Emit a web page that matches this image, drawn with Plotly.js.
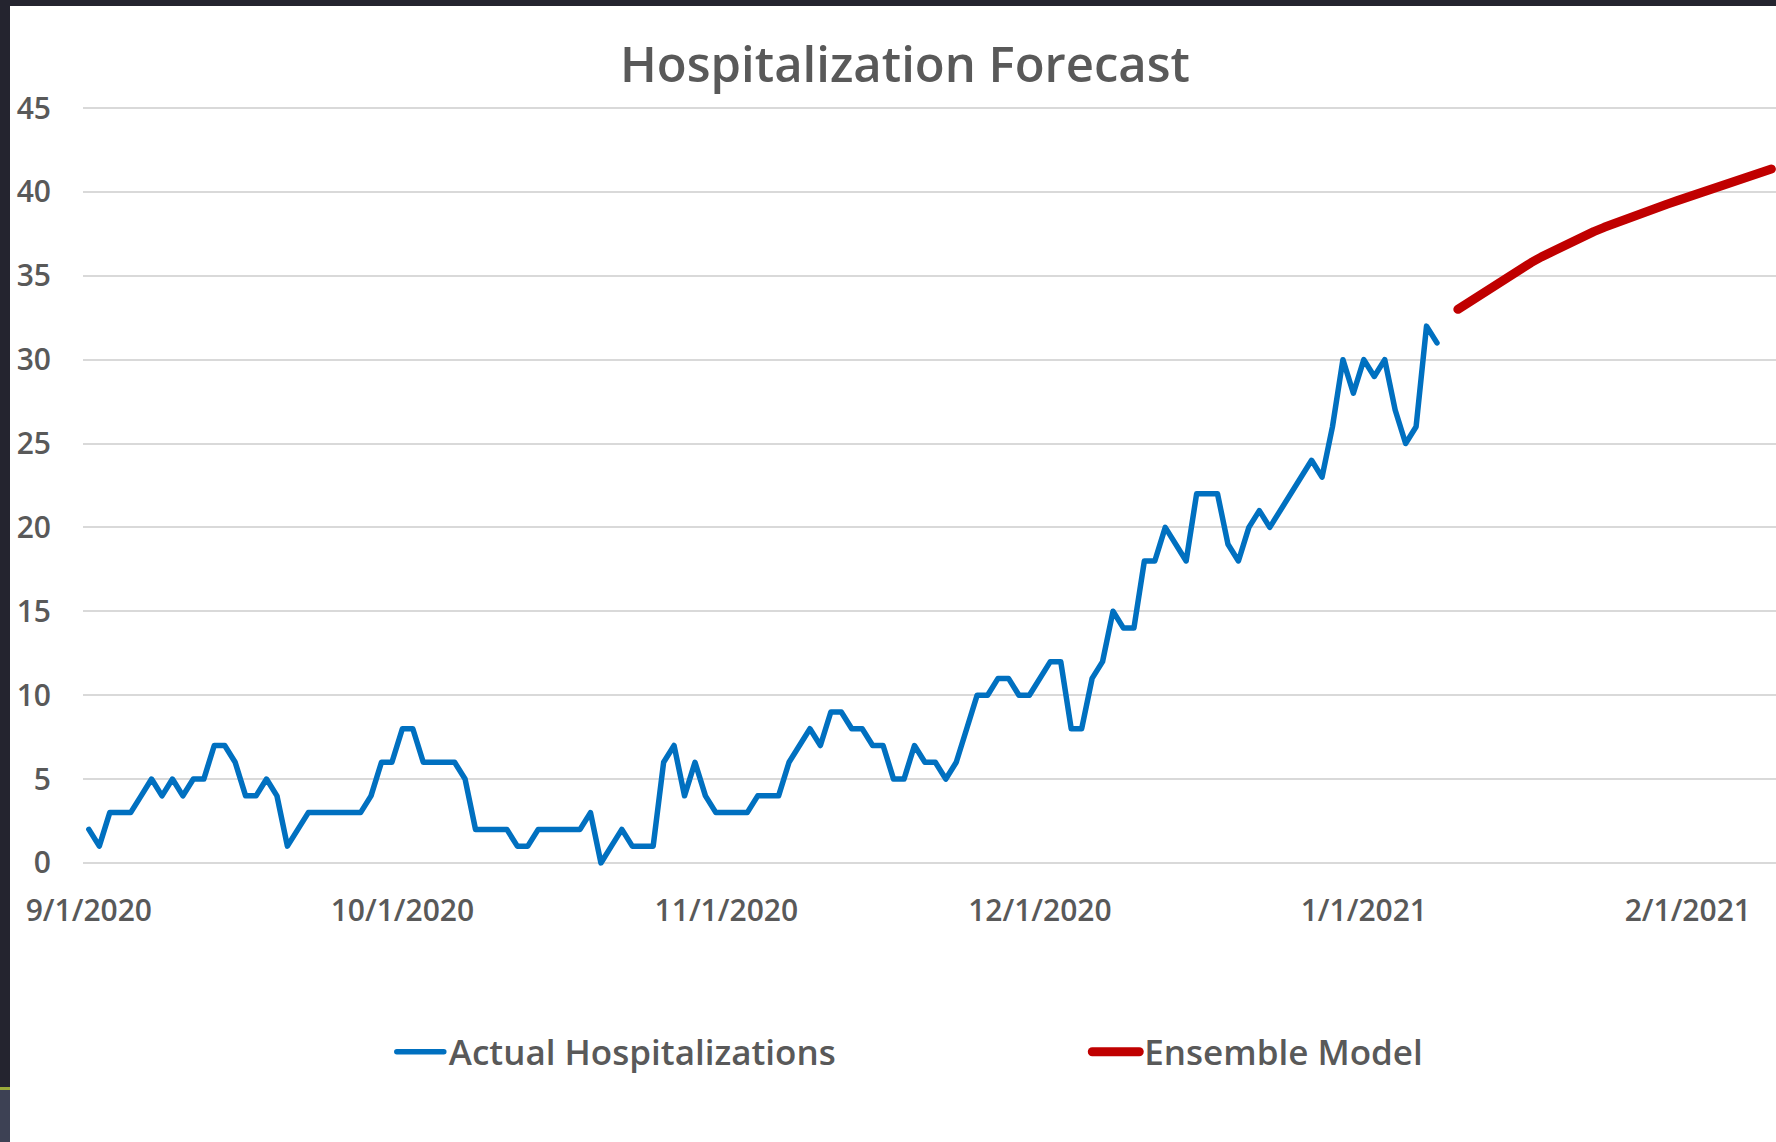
<!DOCTYPE html>
<html><head><meta charset="utf-8">
<script src="https://cdn.plot.ly/plotly-3.0.1.min.js"></script>
<style>
html,body{margin:0;padding:0;background:#24242f;width:1776px;height:1142px;overflow:hidden;}
#chart{position:absolute;left:10px;top:6px;width:1766px;height:1136px;background:#fff;}
#stripA{position:absolute;left:0;top:1087px;width:10px;height:3px;background:#9aaa3a;}
#stripB{position:absolute;left:0;top:1090px;width:10px;height:52px;background:#3d4154;}
.scatterlayer .js-line{stroke-linejoin:round;stroke-linecap:round;}
.legendlines path{stroke-linecap:round;}
</style></head>
<body><div id="chart"></div><div id="stripA"></div><div id="stripB"></div>
<script>
// Daily actual hospitalizations starting 9/1/2020
const actualStart = '2020-09-01';
const actualValues = [
  2,1,3,3,3,4,5,4,5,4, 5,5,7,7,6,4,4,5,4,1,
  2,3,3,3,3,3,3,4,6,6, 8,8,6,6,6,6,5,2,2,2,
  2,1,1,2,2,2,2,2,3,0, 1,2,1,1,1,6,7,4,6,4,
  3,3,3,3,4,4,4,6,7,8, 7,9,9,8,8,7,7,5,5,7,
  6,6,5,6,8,10,10,11,11,10, 10,11,12,12,8,8,11,12,15,14,
  14,18,18,20,19,18,22,22,22,19, 18,20,21,20,21,22,23,24,23,26,
  30,28,30,29,30,27,25,26,32,31
];
// Daily ensemble model forecast starting 1/10/2021
const modelStart = '2021-01-10';
const modelValues = [
  33.0,33.42,33.84,34.25,34.65,35.04,35.42,35.78,36.13,36.46,
  36.78,37.08,37.36,37.63,37.89,38.14,38.38,38.61,38.83,39.05,
  39.27,39.48,39.69,39.9,40.1,40.31,40.52,40.73,40.94,41.15,41.36
];
const tickDates = ['2020-09-01','2020-10-01','2020-11-01','2020-12-01','2021-01-01','2021-02-01'];
const tickLabels = ['9/1/2020','10/1/2020','11/1/2020','12/1/2020','1/1/2021','2/1/2021'];
const yTicks = [0,5,10,15,20,25,30,35,40,45];

function dailyDates(start, n){
  const t0 = Date.parse(start + 'T00:00:00Z');
  const out = [];
  for (let i = 0; i < n; i++) out.push(new Date(t0 + i*86400000).toISOString().slice(0,10));
  return out;
}

const font = "'Open Sans', 'Noto Sans', sans-serif";
const grey = '#595959';

const traces = [
  {x: dailyDates(actualStart, actualValues.length), y: actualValues, type:'scatter', mode:'lines',
   name:'Actual Hospitalizations', line:{color:'#0070c0', width:5.5}, legend:'legend'},
  {x: dailyDates(modelStart, modelValues.length), y: modelValues, type:'scatter', mode:'lines',
   name:'Ensemble Model', line:{color:'#c00000', width:9}, legend:'legend2'}
];

const legendFont = {family:font, size:35, weight:600, color:grey};

const layout = {
  width:1766, height:1136,
  paper_bgcolor:'#ffffff', plot_bgcolor:'#ffffff',
  margin:{l:73, r:0, t:96.6, b:269.2},
  font:{family:font, color:grey},
  title:{text:'Hospitalization Forecast', font:{family:font, size:49, weight:600, color:grey},
         xref:'container', yref:'container', x:0.5068, xanchor:'center', y:1-58.6/1136, yanchor:'middle'},
  xaxis:{type:'date', range:['2020-08-31 10:34','2021-02-09 10:34'],
         tickmode:'array', tickvals:tickDates, ticktext:tickLabels,
         showgrid:false, zeroline:false, showline:false,
         ticks:'outside', ticklen:11, tickcolor:'rgba(0,0,0,0)',
         tickfont:{family:font, size:30, weight:600, color:grey}},
  yaxis:{range:[-0.6,45.3], tickmode:'array', tickvals:yTicks,
         showgrid:true, gridcolor:'#d9d9d9', gridwidth:2, zeroline:false, showline:false,
         ticks:'outside', ticklen:25, tickcolor:'rgba(0,0,0,0)',
         tickfont:{family:font, size:30, weight:600, color:grey}},
  showlegend:true,
  legend:{orientation:'h', xref:'container', yref:'container', x:0.2162, xanchor:'left', itemwidth:47,
          y:1-1046/1136, yanchor:'middle', font:legendFont, bgcolor:'rgba(0,0,0,0)'},
  legend2:{orientation:'h', xref:'container', yref:'container', x:0.6100, xanchor:'left', itemwidth:47,
          y:1-1046/1136, yanchor:'middle', font:legendFont, bgcolor:'rgba(0,0,0,0)'}
};

Plotly.newPlot('chart', traces, layout, {displayModeBar:false, staticPlot:true});
</script>
</body></html>
